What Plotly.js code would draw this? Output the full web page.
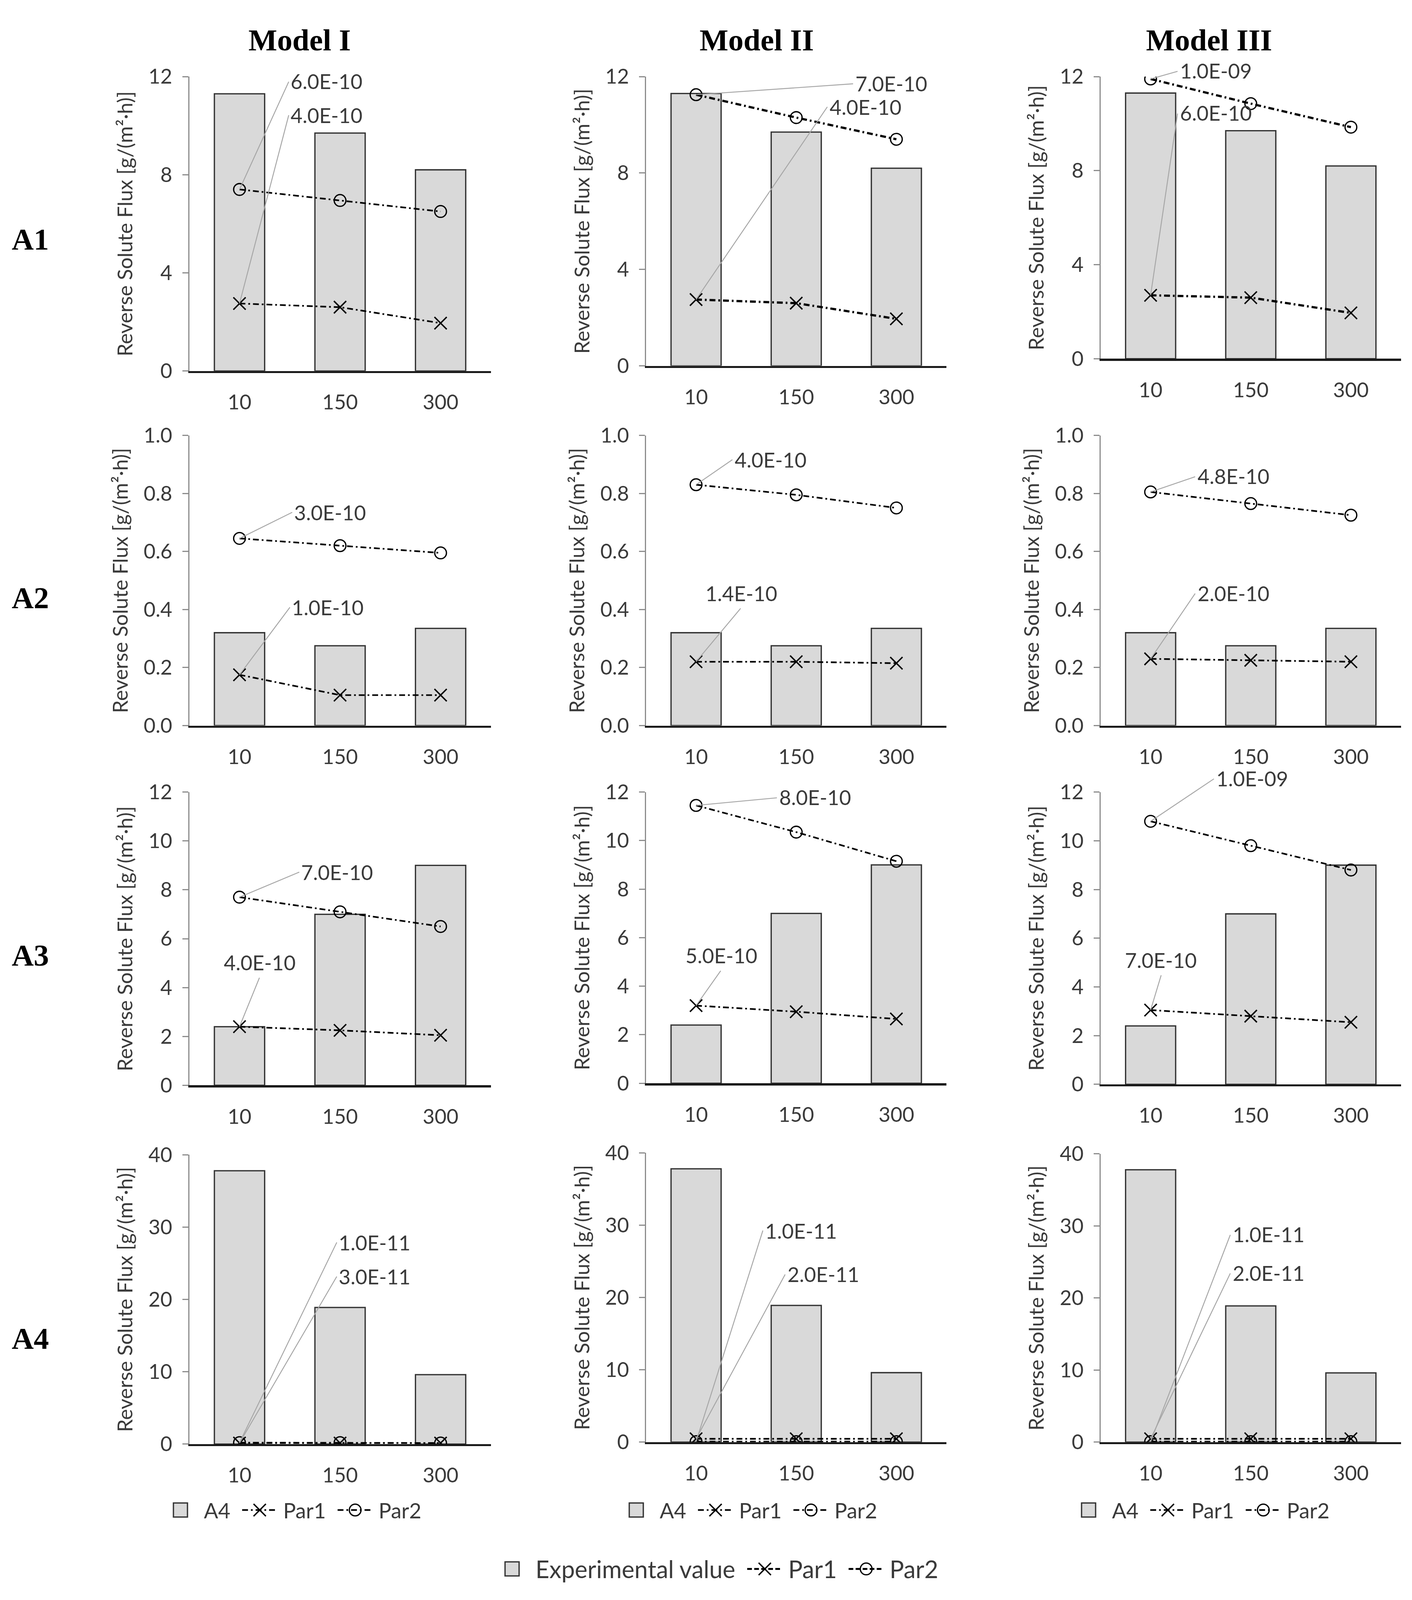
<!DOCTYPE html>
<html>
<head>
<meta charset="utf-8">
<script src="https://cdn.plot.ly/plotly-3.0.1.min.js"></script>
<style>
  html, body { margin: 0; padding: 0; background: #fff; }
  #wrap { width: 3615px; height: 4096px; overflow: hidden; }
  #chart { width: 1205px; height: 1365.33px; transform: scale(3); transform-origin: 0 0; }
</style>
</head>
<body>
<div id="wrap"><div id="chart"></div></div>
<script>
// x categories: draw solution flux setting
const fluxes = ["10", "150", "300"];

// experimental reverse solute flux, one array per solute
const expA1 = [11.3, 9.7, 8.2];
const expA2 = [0.32, 0.275, 0.335];
const expA3 = [2.4, 7.0, 9.0];
const expA4 = [37.8, 18.9, 9.6];

// Model I
const m1A1Par1 = [2.75, 2.6, 1.95];
const m1A1Par2 = [7.4, 6.95, 6.5];
const m1A2Par1 = [0.175, 0.105, 0.105];
const m1A2Par2 = [0.645, 0.62, 0.595];
const m1A3Par1 = [2.4, 2.25, 2.05];
const m1A3Par2 = [7.7, 7.1, 6.5];
const m1A4Par1 = [0.15, 0.15, 0.15];
const m1A4Par2 = [0.2, 0.2, 0.15];

// Model II
const m2A1Par1 = [2.75, 2.6, 1.95];
const m2A1Par2 = [11.25, 10.3, 9.4];
const m2A2Par1 = [0.22, 0.22, 0.215];
const m2A2Par2 = [0.83, 0.795, 0.75];
const m2A3Par1 = [3.2, 2.95, 2.65];
const m2A3Par2 = [11.45, 10.35, 9.15];
const m2A4Par1 = [0.45, 0.45, 0.45];
const m2A4Par2 = [0.05, 0.05, 0.05];

// Model III
const m3A1Par1 = [2.7, 2.6, 1.95];
const m3A1Par2 = [11.9, 10.85, 9.85];
const m3A2Par1 = [0.23, 0.225, 0.22];
const m3A2Par2 = [0.805, 0.765, 0.725];
const m3A3Par1 = [3.05, 2.8, 2.55];
const m3A3Par2 = [10.8, 9.8, 8.8];
const m3A4Par1 = [0.45, 0.45, 0.45];
const m3A4Par2 = [0.05, 0.05, 0.05];

// fitted coefficient labels (rows A1..A4)
const m1Par1Labels = ["4.0E-10", "1.0E-10", "4.0E-10", "3.0E-11"];
const m1Par2Labels = ["6.0E-10", "3.0E-10", "7.0E-10", "1.0E-11"];
const m2Par1Labels = ["4.0E-10", "1.4E-10", "5.0E-10", "2.0E-11"];
const m2Par2Labels = ["7.0E-10", "4.0E-10", "8.0E-10", "1.0E-11"];
const m3Par1Labels = ["6.0E-10", "2.0E-10", "7.0E-10", "2.0E-11"];
const m3Par2Labels = ["1.0E-09", "4.8E-10", "1.0E-09", "1.0E-11"];

const modelTitles = ["Model I", "Model II", "Model III"];
const rowNames = ["A1", "A2", "A3", "A4"];

// ---- layout constants ----
// page drawn at 1/3 size then scaled x3; the visible viewport is 4096 px high,
// so the vertical layout (measured on a 1470 frame) is squeezed by VS
const W = 1205, H = 1470;
const PLOT_H = 4096 / 3;
const VS = PLOT_H / H;
const FONT = "Lato, 'Open Sans', sans-serif";
const SERIF = "'Liberation Serif', 'DejaVu Serif', serif";
const TXT = "#3a3a3a";

const colPx = [[161.5, 418.9], [551.3, 807.7], [939.2, 1195.6]];
const rowPx = [
  [[70.4, 340.9], [70.4, 336.2], [70.4, 329.7]],
  [[400.1, 666.8], [400.1, 666.8], [400.1, 666.8]],
  [[727.9, 997.4], [727.9, 995.5], [727.9, 996.5]],
  [[1061.3, 1327.1], [1059.5, 1325.2], [1060.4, 1325.2]],
];
const rowAxis = [
  { range: [0, 12], dtick: 4, fmt: "d" },
  { range: [0, 1], dtick: 0.2, fmt: ".1f" },
  { range: [0, 12], dtick: 2, fmt: "d" },
  { range: [0, 40], dtick: 10, fmt: "d" },
];
// label offsets [ax, ay, xanchor, yanchor] in px for Par2 and Par1
const labelPos = [
  [{ p2: [42, -99, "left", "middle"], p1: [42, -173, "left", "middle"] },
   { p2: [134, -10, "left", "middle"], p1: [112, -177, "left", "middle"] },
   { p2: [23, -7, "left", "middle"], p1: [23, -167, "left", "middle"] }],
  [{ p2: [45, -24, "left", "middle"], p1: [43, -62, "left", "middle"] },
   { p2: [31, -23, "left", "middle"], p1: [38, -49, "center", "bottom"] },
   { p2: [38, -14, "left", "middle"], p1: [38, -60, "left", "middle"] }],
  [{ p2: [51, -23, "left", "middle"], p1: [17, -45, "center", "bottom"] },
   { p2: [69, -7, "left", "middle"], p1: [21, -32, "center", "bottom"] },
   { p2: [54, -39, "left", "middle"], p1: [9, -32, "center", "bottom"] }],
  [{ p2: [83, -184, "left", "middle"], p1: [83, -153, "left", "middle"] },
   { p2: [57, -194, "left", "middle"], p1: [76, -151, "left", "middle"] },
   { p2: [68, -190, "left", "middle"], p1: [68, -152, "left", "middle"] }],
];

const expRows = [expA1, expA2, expA3, expA4];
const par1 = [
  [m1A1Par1, m2A1Par1, m3A1Par1],
  [m1A2Par1, m2A2Par1, m3A2Par1],
  [m1A3Par1, m2A3Par1, m3A3Par1],
  [m1A4Par1, m2A4Par1, m3A4Par1],
];
const par2 = [
  [m1A1Par2, m2A1Par2, m3A1Par2],
  [m1A2Par2, m2A2Par2, m3A2Par2],
  [m1A3Par2, m2A3Par2, m3A3Par2],
  [m1A4Par2, m2A4Par2, m3A4Par2],
];
const par1Labels = [m1Par1Labels, m2Par1Labels, m3Par1Labels];
const par2Labels = [m1Par2Labels, m2Par2Labels, m3Par2Labels];

const legendIds = ["legend", "legend2", "legend3"];
const lineDash = "5px,2.5px,1.5px,2.5px";

const barStyle = { color: "#d9d9d9", line: { color: "#333", width: 1.1 } };
const par1Marker = { symbol: "x-thin-open", size: 10.5, color: "#000", line: { color: "#000", width: 1.2 } };
const par2Marker = { symbol: "circle-open", size: 10, color: "#000", line: { color: "#000", width: 1.1 } };

const traces = [];
const annotations = [];
const layout = {
  width: W,
  height: PLOT_H,
  margin: { l: 0, r: 0, t: 0, b: 0 },
  paper_bgcolor: "#fff",
  plot_bgcolor: "rgba(0,0,0,0)",
  font: { family: FONT, size: 16, color: TXT },
  bargap: 0.5,
  showlegend: true,
};

for (let r = 0; r < 4; r++) {
  for (let c = 0; c < 3; c++) {
    const k = r * 3 + c + 1;
    const xId = k === 1 ? "x" : "x" + k;
    const yId = k === 1 ? "y" : "y" + k;
    const inLegend = r === 3;
    const leg = legendIds[c];
    // first row of Models II/III is drawn with a heavier dash in the source
    const lw = r === 0 && c > 0 ? 1.9 : 1.4;

    traces.push({
      type: "bar", x: fluxes, y: expRows[r], xaxis: xId, yaxis: yId,
      name: "A4", legend: leg, showlegend: inLegend,
      marker: barStyle, hoverinfo: "skip",
    });
    traces.push({
      type: "scatter", mode: "lines+markers", x: fluxes, y: par1[r][c], xaxis: xId, yaxis: yId,
      name: "Par1", legend: leg, showlegend: inLegend,
      line: { color: "#000", width: lw, dash: lineDash }, marker: par1Marker, hoverinfo: "skip",
    });
    traces.push({
      type: "scatter", mode: "lines+markers", x: fluxes, y: par2[r][c], xaxis: xId, yaxis: yId,
      name: "Par2", legend: leg, showlegend: inLegend,
      line: { color: "#000", width: lw, dash: lineDash }, marker: par2Marker, hoverinfo: "skip",
    });

    const cp = colPx[c], rp = rowPx[r][c];
    layout[k === 1 ? "xaxis" : "xaxis" + k] = {
      domain: [cp[0] / W, cp[1] / W],
      anchor: yId,
      type: "category",
      range: [-0.5, 2.5],
      showline: true, linecolor: "#1a1a1a", linewidth: 1.8,
      ticks: "", showgrid: false, zeroline: false,
      tickfont: { family: FONT, size: 17.5, color: TXT },
      ticklabelstandoff: 10,
      fixedrange: true,
    };
    const ra = rowAxis[r];
    layout[k === 1 ? "yaxis" : "yaxis" + k] = {
      domain: [1 - rp[1] / H, 1 - rp[0] / H],
      anchor: xId,
      range: ra.range, dtick: ra.dtick, tick0: 0, tickformat: ra.fmt,
      showline: true, linecolor: "#8c8c8c", linewidth: 1,
      ticks: "outside", ticklen: 5, tickcolor: "#8c8c8c", tickwidth: 1,
      showgrid: false, zeroline: false,
      tickfont: { family: FONT, size: 17.5, color: TXT },
      ticklabelstandoff: 5,
      title: { text: "Reverse Solute Flux [g/(m²·h)]", font: { family: FONT, size: 17.5, color: TXT }, standoff: 8 },
      fixedrange: true,
    };

    // coefficient labels pointing at the first point of each fitted line
    // (category axis: annotation x is the category index, numeric-looking names would be read as numbers)
    const firstIdx = fluxes.indexOf(fluxes[0]);
    const lp = labelPos[r][c];
    [[par2[r][c], par2Labels[c][r], lp.p2], [par1[r][c], par1Labels[c][r], lp.p1]].forEach(([ys, txt, pos]) => {
      annotations.push({
        xref: xId, yref: yId, x: firstIdx, y: ys[firstIdx],
        text: txt, showarrow: true, arrowhead: 0, arrowwidth: 0.8, arrowcolor: "#a6a6a6",
        ax: pos[0], ay: pos[1] * VS, xanchor: pos[2], yanchor: pos[3], standoff: 0,
        font: { family: FONT, size: 17.5, color: TXT },
      });
    });
  }
}

// shared bottom legend entries (no points drawn)
traces.push({ type: "bar", x: [null], y: [null], name: "Experimental value", legend: "legend4", marker: barStyle, hoverinfo: "skip" });
traces.push({ type: "scatter", mode: "lines+markers", x: [null], y: [null], name: "Par1", legend: "legend4",
  line: { color: "#000", width: 1.6, dash: "4px,2px" }, marker: par1Marker, hoverinfo: "skip" });
traces.push({ type: "scatter", mode: "lines+markers", x: [null], y: [null], name: "Par2", legend: "legend4",
  line: { color: "#000", width: 1.6, dash: "4px,2px" }, marker: par2Marker, hoverinfo: "skip" });

const legendBase = {
  orientation: "h", xanchor: "left", yanchor: "middle",
  bgcolor: "rgba(0,0,0,0)", font: { family: FONT, size: 18, color: TXT },
  itemwidth: 30, traceorder: "normal",
};
layout.legend = Object.assign({}, legendBase, { x: 134 / W, y: 1 - 1388 / H });
layout.legend2 = Object.assign({}, legendBase, { x: 523 / W, y: 1 - 1388 / H });
layout.legend3 = Object.assign({}, legendBase, { x: 909 / W, y: 1 - 1388 / H });
layout.legend4 = Object.assign({}, legendBase, { x: 417 / W, y: 1 - 1442 / H, font: { family: FONT, size: 20.5, color: TXT } });

// column titles and row labels
const colTitleX = [255, 646, 1032];
modelTitles.forEach((t, i) => {
  annotations.push({
    xref: "paper", yref: "paper", x: colTitleX[i] / W, y: 1 - 37.6 / H,
    text: "<b>" + t + "</b>", showarrow: false, xanchor: "center", yanchor: "middle",
    font: { family: SERIF, size: 26, color: "#000" },
  });
});
const rowLabelY = [220.7, 549.4, 878, 1230.3];
rowNames.forEach((t, i) => {
  annotations.push({
    xref: "paper", yref: "paper", x: 26 / W, y: 1 - rowLabelY[i] / H,
    text: "<b>" + t + "</b>", showarrow: false, xanchor: "center", yanchor: "middle",
    font: { family: SERIF, size: 26, color: "#000" },
  });
});
layout.annotations = annotations;

Plotly.newPlot("chart", traces, layout, { staticPlot: true, displayModeBar: false, responsive: false });
</script>
</body>
</html>
